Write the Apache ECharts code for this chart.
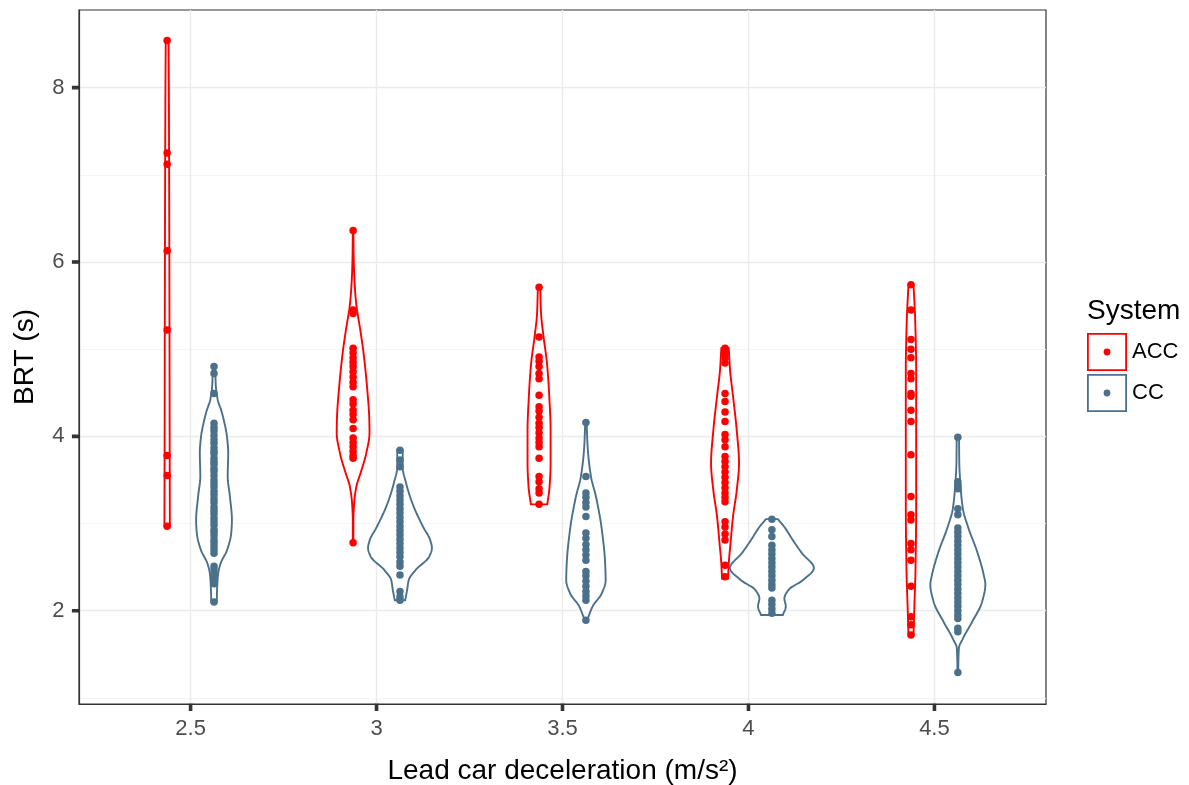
<!DOCTYPE html>
<html>
<head>
<meta charset="utf-8">
<title>BRT by lead car deceleration</title>
<script src="https://cdn.jsdelivr.net/npm/echarts@6/dist/echarts.min.js"></script>
<style>
  html, body { margin: 0; padding: 0; background: #fff; }
  #chart { width: 1189px; height: 785px; }
</style>
</head>
<body>
<div id="chart"></div>
<script>
// lead car deceleration groups (m/s^2)
var decel = [2.5, 3, 3.5, 4, 4.5];
var xTicks = [2.5, 3, 3.5, 4, 4.5];
var yTicks = [2, 4, 6, 8];
var yMinor = [1, 3, 5, 7];

// BRT observations (s), one list per deceleration
var accBrt = [
    [8.54, 7.25, 7.12, 6.13, 5.22, 3.78, 3.55, 2.97],
    [6.36, 5.45, 5.41, 5.01, 4.96, 4.90, 4.85, 4.80, 4.74, 4.68, 4.62, 4.57, 4.42, 4.37, 4.30, 4.25, 4.19, 4.09, 3.98, 3.93, 3.88, 3.83, 3.78, 3.75, 2.78],
    [5.71, 5.14, 4.91, 4.86, 4.80, 4.72, 4.66, 4.47, 4.34, 4.29, 4.22, 4.15, 4.10, 4.04, 3.98, 3.93, 3.88, 3.75, 3.54, 3.48, 3.40, 3.35, 3.22],
    [5.01, 4.95, 4.90, 4.84, 4.49, 4.40, 4.28, 4.17, 4.02, 3.96, 3.88, 3.77, 3.71, 3.65, 3.59, 3.53, 3.47, 3.41, 3.35, 3.30, 3.25, 3.02, 2.96, 2.88, 2.81, 2.52, 2.39],
    [5.74, 5.45, 5.11, 5.00, 4.90, 4.72, 4.66, 4.49, 4.46, 4.30, 4.17, 3.79, 3.31, 3.10, 3.04, 2.77, 2.70, 2.58, 2.28, 1.93, 1.84, 1.72]
];
var ccBrt = [
    [4.80, 4.72, 4.49, 4.15, 4.10, 4.06, 4.01, 3.96, 3.92, 3.87, 3.83, 3.80, 3.75, 3.71, 3.68, 3.63, 3.60, 3.55, 3.50, 3.46, 3.42, 3.37, 3.33, 3.28, 3.24, 3.19, 3.15, 3.11, 3.06, 3.02, 2.98, 2.93, 2.90, 2.86, 2.81, 2.78, 2.74, 2.70, 2.66, 2.51, 2.47, 2.43, 2.38, 2.34, 2.31, 2.10],
    [3.84, 3.73, 3.65, 3.42, 3.37, 3.32, 3.27, 3.22, 3.17, 3.12, 3.07, 3.02, 2.97, 2.92, 2.87, 2.82, 2.77, 2.72, 2.67, 2.62, 2.56, 2.51, 2.41, 2.22, 2.16, 2.12],
    [4.16, 3.54, 3.35, 3.30, 3.24, 3.19, 3.08, 2.89, 2.83, 2.76, 2.70, 2.64, 2.58, 2.45, 2.40, 2.34, 2.28, 2.22, 2.17, 2.12, 1.89],
    [3.05, 2.93, 2.85, 2.75, 2.70, 2.65, 2.60, 2.55, 2.50, 2.45, 2.40, 2.35, 2.30, 2.26, 2.12, 2.07, 2.02, 1.97],
    [3.99, 3.48, 3.44, 3.40, 3.17, 3.10, 2.95, 2.90, 2.85, 2.80, 2.75, 2.70, 2.65, 2.60, 2.55, 2.50, 2.45, 2.40, 2.35, 2.30, 2.25, 2.20, 2.15, 2.10, 2.05, 2.00, 1.95, 1.91, 1.80, 1.76, 1.29]
];

// violin density profiles (BRT level, relative density; 1 = widest of all)
var accViolinY = [
    [2.97, 4.00, 5.00, 6.00, 7.00, 8.00, 8.54],
    [2.78, 3.04, 3.23, 3.42, 3.58, 3.81, 4.04, 4.19, 4.57, 4.95, 5.22, 5.53, 5.83, 6.10, 6.36],
    [3.22, 3.42, 3.69, 4.07, 4.46, 4.84, 5.14, 5.41, 5.71],
    [2.37, 2.54, 2.77, 3.08, 3.38, 3.69, 4.07, 4.46, 4.76, 5.01],
    [1.72, 2.09, 2.47, 3.23, 4.00, 4.76, 5.33, 5.74]
];
var accViolinD = [
    [0.064, 0.059, 0.056, 0.052, 0.047, 0.040, 0.033],
    [0.007, 0.007, 0.024, 0.075, 0.176, 0.311, 0.386, 0.381, 0.327, 0.247, 0.169, 0.071, 0.028, 0.012, 0.007],
    [0.193, 0.247, 0.271, 0.271, 0.240, 0.186, 0.106, 0.047, 0.028],
    [0.071, 0.087, 0.129, 0.188, 0.275, 0.329, 0.275, 0.188, 0.118, 0.087],
    [0.059, 0.082, 0.106, 0.122, 0.122, 0.122, 0.099, 0.059]
];
var ccViolinY = [
    [2.10, 2.28, 2.43, 2.54, 2.70, 2.89, 3.04, 3.31, 3.54, 3.81, 4.00, 4.19, 4.30, 4.42, 4.60, 4.80],
    [2.12, 2.24, 2.35, 2.47, 2.62, 2.72, 2.81, 2.96, 3.23, 3.46, 3.65, 3.84],
    [1.89, 2.05, 2.20, 2.35, 2.54, 2.93, 3.31, 3.54, 3.88, 4.16],
    [1.95, 2.05, 2.14, 2.24, 2.35, 2.49, 2.66, 2.81, 2.96, 3.05],
    [1.29, 1.57, 1.68, 1.87, 2.10, 2.30, 2.41, 2.68, 2.95, 3.17, 3.40, 3.71, 3.99]
];
var ccViolinD = [
    [0.064, 0.075, 0.099, 0.153, 0.311, 0.405, 0.421, 0.374, 0.322, 0.334, 0.304, 0.228, 0.169, 0.087, 0.040, 0.028],
    [0.122, 0.169, 0.205, 0.374, 0.687, 0.751, 0.711, 0.546, 0.294, 0.146, 0.064, 0.064],
    [0.028, 0.158, 0.374, 0.464, 0.452, 0.374, 0.235, 0.118, 0.040, 0.016],
    [0.256, 0.327, 0.294, 0.393, 0.727, 0.988, 0.706, 0.492, 0.294, 0.139],
    [0.007, 0.024, 0.118, 0.334, 0.569, 0.647, 0.609, 0.452, 0.247, 0.118, 0.068, 0.033, 0.028]
];

var ACC_COLOR = '#FF0000';
var CC_COLOR = '#4A708B';
var DODGE = 0.063;      // half the dodge distance, x units
var MAX_HALF = 0.1143;  // half width of the widest violin, x units
var X_MIN = 2.2, X_MAX = 4.8, Y_MIN = 0.93, Y_MAX = 8.89;
var FONT = 'Liberation Sans, Arial, Helvetica, sans-serif';

// monotone cubic resampling so the outline is smooth without overshoot
function resample(xs, ys, n)
{
    var m = xs.length, dx = [], s = [], t = [], out = [];
    for (var i = 0; i < m - 1; i++) {
        dx[i] = xs[i + 1] - xs[i];
        s[i] = (ys[i + 1] - ys[i]) / dx[i];
    }
    t[0] = s[0];
    for (i = 1; i < m - 1; i++) {
        t[i] = s[i - 1] * s[i] <= 0 ? 0 :
            3 * (dx[i - 1] + dx[i]) / ((2 * dx[i] + dx[i - 1]) / s[i - 1] + (dx[i] + 2 * dx[i - 1]) / s[i]);
    }
    t[m - 1] = s[m - 2];
    for (i = 0; i < m - 1; i++) {
        for (var j = 0; j < n; j++) {
            var u = j / n, h = dx[i];
            var h00 = 2 * u * u * u - 3 * u * u + 1, h10 = u * u * u - 2 * u * u + u;
            var h01 = -2 * u * u * u + 3 * u * u, h11 = u * u * u - u * u;
            out.push([xs[i] + u * h, h00 * ys[i] + h10 * h * t[i] + h01 * ys[i + 1] + h11 * h * t[i + 1]]);
        }
    }
    out.push([xs[m - 1], ys[m - 1]]);
    return out;
}

function violinRenderer(profY, profD, offset, color)
{
    return function (params, api) {
        var k = api.value(1);
        var cx = api.value(0) + offset;
        var pts = resample(profY[k], profD[k], 10);
        var right = pts.map(function (p) { return api.coord([cx + Math.max(p[1], 0) * MAX_HALF, p[0]]); });
        var left = pts.slice().reverse().map(function (p) { return api.coord([cx - Math.max(p[1], 0) * MAX_HALF, p[0]]); });
        return {
            type: 'polygon',
            shape: { points: right.concat(left) },
            style: { fill: '#FFFFFF', stroke: color, lineWidth: 1.9 }
        };
    };
}

function pointData(groups, offset)
{
    var out = [];
    groups.forEach(function (vals, k) {
        vals.forEach(function (v) { out.push([decel[k] + offset, v]); });
    });
    return out;
}

var groupIdx = decel.map(function (d, k) { return [d, k]; });

// legend key: outlined box with a dot in the middle
var KEY_ICON = 'path://M0 0H40V38H0Z M1.8 1.8V36.2H38.2V1.8Z M16.6 19A3.4 3.4 0 1 0 23.4 19A3.4 3.4 0 1 0 16.6 19Z';

var chart = echarts.init(document.getElementById('chart'), null, { renderer: 'canvas' });

var option = {
    animation: false,
    backgroundColor: '#FFFFFF',
    textStyle: { fontFamily: FONT },
    title: {
        text: 'System',
        left: 1087,
        top: 297,
        padding: 0,
        textStyle: { fontFamily: FONT, fontSize: 28, fontWeight: 'normal', color: '#000000' }
    },
    legend: {
        orient: 'vertical',
        left: 1087,
        top: 333,
        padding: 0,
        itemWidth: 40,
        itemHeight: 38,
        itemGap: 3,
        selectedMode: false,
        textStyle: { fontFamily: FONT, fontSize: 22, color: '#000000' },
        data: [
            { name: 'ACC', icon: KEY_ICON, itemStyle: { color: ACC_COLOR, borderWidth: 0 } },
            { name: 'CC', icon: KEY_ICON, itemStyle: { color: CC_COLOR, borderWidth: 0 } }
        ]
    },
    grid: {
        left: 79,
        right: 143,
        top: 10,
        bottom: 81,
        show: true,
        borderColor: '#333333',
        borderWidth: 1.2,
        backgroundColor: 'transparent',
        outerBoundsMode: 'none'
    },
    xAxis: {
        type: 'value',
        min: X_MIN,
        max: X_MAX,
        name: 'Lead car deceleration (m/s\u00B2)',
        nameLocation: 'middle',
        nameGap: 53,
        nameTextStyle: { fontFamily: FONT, fontSize: 28, color: '#000000' },
        axisLine: { show: true, onZero: false, lineStyle: { color: '#333333', width: 1.2 } },
        axisTick: { show: false, customValues: xTicks },
        axisLabel: {
            customValues: xTicks,
            margin: 0,
            fontFamily: FONT, fontSize: 22, color: '#4D4D4D',
            // small tick mark above each label
            formatter: function (v) { return '{t|}\n{v|' + v + '}'; },
            rich: {
                t: { width: 2.4, height: 6.5, backgroundColor: '#333333', borderColor: '#333333', borderWidth: 0.6 },
                v: { fontFamily: FONT, fontSize: 22, color: '#4D4D4D', lineHeight: 36 }
            }
        },
        splitLine: { show: true, lineStyle: { color: '#EBEBEB', width: 1.4 } }
    },
    yAxis: [
        {
            type: 'value',
            min: Y_MIN,
            max: Y_MAX,
            name: 'BRT (s)',
            nameLocation: 'middle',
            nameGap: 40,
            nameTextStyle: { fontFamily: FONT, fontSize: 28, color: '#000000' },
            axisLine: { show: true, onZero: false, lineStyle: { color: '#333333', width: 1.2 } },
            axisTick: { show: false, customValues: yTicks },
            axisLabel: {
                customValues: yTicks,
                margin: 0,
                fontFamily: FONT, fontSize: 22, color: '#4D4D4D',
                // small tick mark right of each label
                formatter: function (v) { return '{v|' + v + '}{t|}'; },
                rich: {
                    v: { fontFamily: FONT, fontSize: 22, color: '#4D4D4D', padding: [0, 8, 0, 0] },
                    t: { width: 6.5, height: 2.4, backgroundColor: '#333333', borderColor: '#333333', borderWidth: 0.6 }
                }
            },
            splitLine: { show: true, lineStyle: { color: '#EBEBEB', width: 1.4 } }
        },
        {
            // minor grid lines only
            type: 'value',
            min: Y_MIN,
            max: Y_MAX,
            position: 'left',
            axisLine: { show: false },
            axisTick: { show: false, customValues: yMinor },
            axisLabel: { show: false, customValues: yMinor },
            splitLine: { show: true, lineStyle: { color: '#F2F2F2', width: 0.8 } }
        }
    ],
    series: [
        {
            name: 'ACC',
            type: 'custom',
            z: 2,
            itemStyle: { color: ACC_COLOR },
            renderItem: violinRenderer(accViolinY, accViolinD, -DODGE, ACC_COLOR),
            data: groupIdx
        },
        {
            name: 'CC',
            type: 'custom',
            z: 2,
            itemStyle: { color: CC_COLOR },
            renderItem: violinRenderer(ccViolinY, ccViolinD, DODGE, CC_COLOR),
            data: groupIdx
        },
        {
            name: 'ACC',
            type: 'scatter',
            z: 3,
            symbolSize: 7.5,
            itemStyle: { color: ACC_COLOR, opacity: 1 },
            data: pointData(accBrt, -DODGE)
        },
        {
            name: 'CC',
            type: 'scatter',
            z: 3,
            symbolSize: 7.5,
            itemStyle: { color: CC_COLOR, opacity: 1 },
            data: pointData(ccBrt, DODGE)
        }
    ]
};

chart.setOption(option);
</script>
</body>
</html>
